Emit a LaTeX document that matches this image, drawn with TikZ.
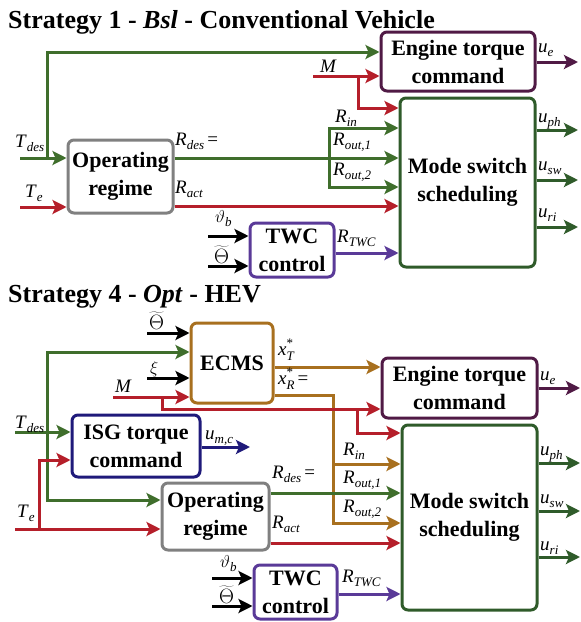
\documentclass[tikz,border=0pt]{standalone}
\usepackage{fontspec}
\setmainfont{Liberation Serif}
\usetikzlibrary{arrows.meta,positioning}
\definecolor{cgreen}{HTML}{3F6E2C}
\definecolor{cred}{HTML}{B51F2A}
\definecolor{cplum}{HTML}{501A45}
\definecolor{cmode}{HTML}{2F5B2A}
\definecolor{cgray}{HTML}{808080}
\definecolor{ctwc}{HTML}{5A3A98}
\definecolor{cecms}{HTML}{A8701F}
\definecolor{cisg}{HTML}{1F1A7A}
\newcommand{\sig}[2]{\textit{#1}\raisebox{-4pt}{\fontsize{13}{13}\selectfont\textit{#2}}}
\newcommand{\sigx}[2]{\textit{#1}\rlap{\raisebox{8pt}{\fontsize{13}{13}\selectfont *}}\raisebox{-5pt}{\fontsize{13}{13}\selectfont\textit{#2}}}
\newcommand{\thtil}{{\fontsize{20}{20}\selectfont$\widetilde{\Theta}$}}

\begin{document}
\begin{tikzpicture}[x=1pt,y=-1pt,
  blk/.style={draw=#1,line width=3pt,rounded corners=6pt,fill=white,align=center,inner sep=0pt,
    font=\fontsize{22}{28}\selectfont\bfseries},
  lbl/.style={anchor=base west,inner sep=0pt,font=\fontsize{19}{19}\selectfont},
  ttl/.style={anchor=base west,inner sep=0pt,font=\fontsize{26}{30}\selectfont\bfseries},
  wire/.style={line width=3pt},
  sig/.style={line width=3pt,-{Stealth[length=14pt,width=14pt,inset=3pt]}}]
\useasboundingbox (0,0) rectangle (581,622);
% ---------------- Strategy 1 ----------------
\node[ttl] (title1) at (8,28) {Strategy 1 - \textit{Bsl} - Conventional Vehicle};
% blocks
\node[blk=cplum,minimum width=154pt,minimum height=59pt] (eng1) at (458,61.5) {Engine torque\\command};
\node[blk=cmode,minimum width=135pt,minimum height=169pt] (mss1) at (467.5,182.5) {Mode switch\\scheduling};
\node[blk=cgray,minimum width=105pt,minimum height=73pt] (opr1) at (120.5,176.5) {Operating\\regime};
\node[blk=ctwc,minimum width=84pt,minimum height=54pt] (twc1) at (292,250) {TWC\\control};
% free ends and junctions
\coordinate (tdes1) at (20,158);
\coordinate (te1) at (20,207);
\coordinate (m1) at (313,76);
\coordinate (jt1) at (47,158);
\coordinate (jm1) at (358,76);
\coordinate (jr1) at (329,158);
\coordinate (th1) at (208,236);
\coordinate (tt1) at (208,266);
\coordinate (ue1) at (578,62);
\coordinate (uph1) at (578,130);
\coordinate (usw1) at (578,180);
\coordinate (uri1) at (578,227);
% connectors
\draw[sig,cgreen] (tdes1) -- (opr1.west |- tdes1);
\draw[sig,cgreen] (jt1) |- (eng1.west |- 0,52);
\draw[sig,cred] (te1) -- (opr1.west |- te1);
\draw[sig,cred] (m1) -- (eng1.west |- m1);
\draw[sig,cred] (jm1) |- (mss1.west |- 0,108);
\draw[sig,cgreen] (opr1.east |- jr1) -- (mss1.west |- jr1);
\draw[sig,cgreen] (jr1) |- (mss1.west |- 0,128);
\draw[sig,cgreen] (jr1) |- (mss1.west |- 0,187);
\draw[sig,cred] (opr1.east |- 0,206) -- (mss1.west |- 0,206);
\draw[sig] (th1) -- (twc1.west |- th1);
\draw[sig] (tt1) -- (twc1.west |- tt1);
\draw[sig,ctwc] (twc1.east |- 0,253) -- (mss1.west |- 0,253);
\draw[sig,cplum] (eng1.east |- ue1) -- (ue1);
\draw[sig,cmode] (mss1.east |- uph1) -- (uph1);
\draw[sig,cmode] (mss1.east |- usw1) -- (usw1);
\draw[sig,cmode] (mss1.east |- uri1) -- (uri1);
% labels
\node[lbl] (ltdes1) at (15,147) {\sig{T}{des}};
\node[lbl] (lte1) at (25,197) {\sig{T}{e}};
\node[lbl] (lm1) at (320,72) {\textit{M}};
\node[lbl] (lrdes1) at (175,145) {\sig{R}{des}\,=};
\node[lbl] (lract1) at (175,193) {\sig{R}{act}};
\node[lbl] (lrin1) at (335,122) {\sig{R}{in}};
\node[lbl] (lro11) at (333,145) {\sig{R}{out,1}};
\node[lbl] (lro21) at (333,175) {\sig{R}{out,2}};
\node[lbl] (lth1) at (215,222) {\sig{$\vartheta$}{b}};
\node[lbl] (ltt1) at (214,263) {\thtil};
\node[lbl] (lrtwc1) at (337,242) {\sig{R}{TWC}};
\node[lbl] (lue1) at (538,52) {\sig{u}{e}};
\node[lbl] (luph1) at (538,122) {\sig{u}{ph}};
\node[lbl] (lusw1) at (538,170) {\sig{u}{sw}};
\node[lbl] (luri1) at (538,217) {\sig{u}{ri}};
% ---------------- Strategy 4 ----------------
\node[ttl] (title4) at (8,302) {Strategy 4 - \textit{Opt} - HEV};
% blocks
\node[blk=cecms,minimum width=82pt,minimum height=80pt] (ecms) at (232,363) {ECMS};
\node[blk=cplum,minimum width=155pt,minimum height=60pt] (eng4) at (459.5,388) {Engine torque\\command};
\node[blk=cisg,minimum width=128pt,minimum height=62pt] (isg) at (136,446) {ISG torque\\command};
\node[blk=cgray,minimum width=107pt,minimum height=67pt] (opr4) at (215.5,516.5) {Operating\\regime};
\node[blk=ctwc,minimum width=83pt,minimum height=54pt] (twc4) at (295.5,592) {TWC\\control};
\node[blk=cmode,minimum width=135pt,minimum height=185pt] (mss4) at (469.5,517.5) {Mode switch\\scheduling};
% free ends and junctions
\coordinate (tt4a) at (147,333);
\coordinate (xi4) at (147,378);
\coordinate (m4) at (113,397);
\coordinate (tdes4) at (15,432);
\coordinate (te4) at (15,529);
\coordinate (jt4) at (47,432);
\coordinate (je4) at (39,529);
\coordinate (jm4) at (162,397);
\coordinate (jm4b) at (357,409);
\coordinate (jx4) at (333,464);
\coordinate (th4) at (212,578);
\coordinate (tt4) at (212,606);
\coordinate (umc4) at (250,447);
\coordinate (ue4) at (580,388);
\coordinate (uph4) at (580,463);
\coordinate (usw4) at (580,511);
\coordinate (uri4) at (580,557);
% connectors
\draw[sig] (tt4a) -- (ecms.west |- tt4a);
\draw[sig] (xi4) -- (ecms.west |- xi4);
\draw[sig,cecms] (ecms.east |- 0,367) -- (eng4.west |- 0,367);
\draw[wire,cecms] (ecms.east |- 0,395) -| (jx4);
\draw[sig,cecms] (jx4) -- (mss4.west |- jx4);
\draw[sig,cecms] (jx4) |- (mss4.west |- 0,523);
\draw[sig,cred] (m4) -- (ecms.west |- m4);
\draw[sig,cred] (jm4) |- (eng4.west |- jm4b);
\draw[sig,cred] (jm4b) |- (mss4.west |- 0,433);
\draw[sig,cgreen] (tdes4) -- (isg.west |- tdes4);
\draw[sig,cgreen] (jt4) |- (ecms.west |- 0,352);
\draw[sig,cgreen] (jt4) |- (opr4.west |- 0,500);
\draw[sig,cred] (te4) -- (opr4.west |- te4);
\draw[sig,cred] (je4) |- (isg.west |- 0,460);
\draw[sig,cisg] (isg.east |- umc4) -- (umc4);
\draw[sig,cgreen] (opr4.east |- 0,493) -- (mss4.west |- 0,493);
\draw[sig,cred] (opr4.east |- 0,543) -- (mss4.west |- 0,543);
\draw[sig] (th4) -- (twc4.west |- th4);
\draw[sig] (tt4) -- (twc4.west |- tt4);
\draw[sig,ctwc] (twc4.east |- 0,594) -- (mss4.west |- 0,594);
\draw[sig,cplum] (eng4.east |- ue4) -- (ue4);
\draw[sig,cmode] (mss4.east |- uph4) -- (uph4);
\draw[sig,cmode] (mss4.east |- usw4) -- (usw4);
\draw[sig,cmode] (mss4.east |- uri4) -- (uri4);
% labels
\node[lbl] (ltt4a) at (149,329) {\thtil};
\node[lbl] (lxi4) at (150,373) {$\xi$};
\node[lbl] (lm4) at (115,392) {\textit{M}};
\node[lbl] (ltdes4) at (15,428) {\sig{T}{des}};
\node[lbl] (lte4) at (17,517) {\sig{T}{e}};
\node[lbl] (lumc4) at (205,439) {\sig{u}{m,c}};
\node[lbl] (lxt4) at (278,355) {\sigx{x}{T}};
\node[lbl] (lxr4) at (278,384) {\sigx{x}{R}\,=};
\node[lbl] (lrin4) at (343,455) {\sig{R}{in}};
\node[lbl] (lrdes4) at (272,478) {\sig{R}{des}\,=};
\node[lbl] (lro14) at (343,483) {\sig{R}{out,1}};
\node[lbl] (lro24) at (343,512) {\sig{R}{out,2}};
\node[lbl] (lract4) at (272,528) {\sig{R}{act}};
\node[lbl] (lth4) at (220,567) {\sig{$\vartheta$}{b}};
\node[lbl] (ltt4) at (219,603) {\thtil};
\node[lbl] (lrtwc4) at (342,582) {\sig{R}{TWC}};
\node[lbl] (lue4) at (540,380) {\sig{u}{e}};
\node[lbl] (luph4) at (540,455) {\sig{u}{ph}};
\node[lbl] (lusw4) at (540,503) {\sig{u}{sw}};
\node[lbl] (luri4) at (540,550) {\sig{u}{ri}};
\end{tikzpicture}
\end{document}
